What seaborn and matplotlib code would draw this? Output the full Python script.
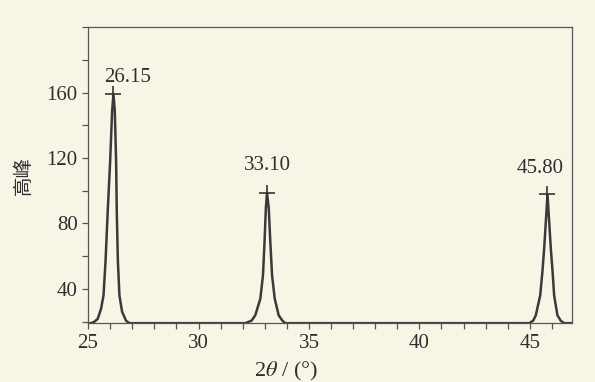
import pandas as pd
import matplotlib
matplotlib.use("Agg")
import matplotlib.pyplot as plt
import seaborn as sns
from matplotlib.ticker import MultipleLocator

# XRD trace (2theta in degrees, peak height)
two_theta = [25.00, 25.14, 25.30, 25.44, 25.59, 25.70, 25.79, 25.89, 26.00, 26.09, 26.15,
             26.21, 26.27, 26.30, 26.35, 26.42, 26.54, 26.72, 26.87,
             32.12, 32.40, 32.57, 32.80, 32.92, 32.99, 33.05, 33.10,
             33.18, 33.25, 33.33, 33.45, 33.63, 33.80, 33.93,
             44.97, 45.15, 45.27, 45.47, 45.57, 45.65, 45.725, 45.80,
             45.875, 45.95, 46.03, 46.10, 46.25, 46.40, 46.55, 46.90]
intensity = [19, 19, 20, 21.7, 27.9, 36, 56.6, 87.4, 118, 149, 159,
             149, 118, 87, 57, 36, 26, 20.5, 19,
             19, 20.5, 23.8, 34, 48.4, 69, 89.4, 98.7,
             89.4, 69, 48.4, 34, 23.8, 20.5, 19,
             19, 20.5, 23.8, 36, 50.5, 64.8, 81.2, 97.7,
             81.2, 64.8, 50.5, 36, 23.8, 20.5, 19, 19]

peak_pos = [26.15, 33.10, 45.80]
peak_height = [159, 98.7, 97.7]
peak_labels = ["26.15", "33.10", "45.80"]
label_offsets = [(10, 5), (0, 13), (-5, 12)]

x_ticks = [25, 30, 35, 40, 45]
y_ticks = [40, 80, 120, 160]

df = pd.DataFrame({"2theta": two_theta, "intensity": intensity})

sns.set_style("ticks")
plt.rcParams["font.family"] = ["Liberation Serif", "DejaVu Serif"]
plt.rcParams["mathtext.fontset"] = "stix"

bg = "#f8f5e7"
ink = "#2e2e2e"

fig = plt.figure(figsize=(5.95, 3.82), dpi=100, facecolor=bg)
ax = fig.add_axes([0.148, 0.154, 0.813, 0.775], facecolor=bg)

sns.lineplot(data=df, x="2theta", y="intensity", ax=ax, color="#3a3a3a",
             linewidth=1.8, sort=False, estimator=None)
ax.plot(peak_pos, peak_height, linestyle="none", marker="+", markersize=11,
        markeredgewidth=1.2, color="#333333")

for px, py, lab, off in zip(peak_pos, peak_height, peak_labels, label_offsets):
    ax.annotate(lab, (px, py), xytext=off, textcoords="offset points",
                ha="center", va="bottom", fontsize=15, color=ink)

ax.set_xlim(25, 46.9)
ax.set_ylim(19, 200)
ax.set_xticks(x_ticks)
ax.set_yticks(y_ticks)
ax.xaxis.set_minor_locator(MultipleLocator(1))
ax.yaxis.set_minor_locator(MultipleLocator(20))
ax.tick_params(which="both", direction="out", length=4, width=0.9, color="#555555",
               labelsize=15, labelcolor=ink)
for s in ax.spines.values():
    s.set_visible(True)
    s.set_color("#555555")
    s.set_linewidth(0.9)

ax.set_xlabel(r"2$\it{\theta}$ / (°)", fontsize=16, color=ink)
ax.xaxis.set_label_coords(0.41, -0.125)
ax.set_ylabel("高峰", fontsize=14, color=ink, labelpad=9,
              family=["Noto Sans CJK SC", "DejaVu Sans"])

fig.savefig("out.png", dpi=100, facecolor=bg)
